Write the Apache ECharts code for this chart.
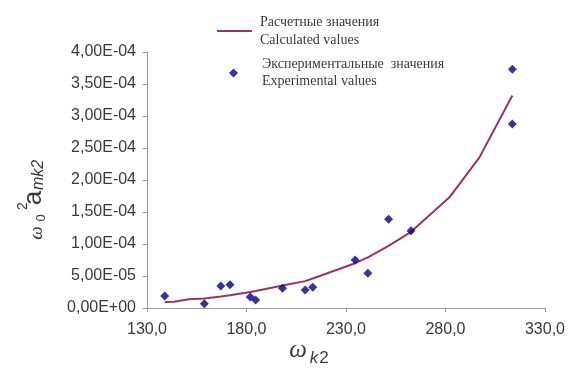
<!DOCTYPE html>
<html>
<head>
<meta charset="utf-8">
<script src="https://cdn.jsdelivr.net/npm/echarts@6/dist/echarts.min.js"></script>
<style>
  html, body { margin: 0; padding: 0; background: #ffffff; }
  #chart { width: 568px; height: 369px; }
</style>
</head>
<body>
<div id="chart"></div>
<script>
// Experimental points (ω_k2, ω0²·a_mk2)
const expX = [138.9, 158.8, 167.1, 171.7, 181.9, 184.6, 198.1, 209.5, 213.3, 234.6, 241.0, 251.4, 262.7, 313.6, 313.6];
const expY = [1.88e-5, 6.8e-6, 3.44e-5, 3.65e-5, 1.72e-5, 1.25e-5, 3.07e-5, 2.81e-5, 3.23e-5, 7.5e-5, 5.42e-5, 1.385e-4, 1.208e-4, 3.73e-4, 2.875e-4];

// Calculated curve
const calcX = [138.9, 143.5, 151.0, 158.8, 167.1, 171.7, 181.9, 184.6, 198.1, 209.5, 213.3, 234.6, 241.0, 251.4, 262.7, 282.0, 297.0, 313.6];
const calcY = [9.4e-6, 9.6e-6, 1.35e-5, 1.5e-5, 1.8e-5, 2.0e-5, 2.5e-5, 2.65e-5, 3.5e-5, 4.2e-5, 4.6e-5, 7.0e-5, 7.9e-5, 9.7e-5, 1.19e-4, 1.73e-4, 2.35e-4, 3.32e-4];

// Axis ranges and tick steps
const xTicks = { min: 130, max: 330, step: 50 };
const yTicks = { min: 0, max: 4e-4, step: 5e-5 };

// Legend labels
const calcName = 'Расчетные значения\nCalculated values';
const expName = 'Экспериментальные  значения\nExperimental values';

const pairs = (xs, ys) => xs.map((x, i) => [x, ys[i]]);

function sciComma(v) {
  if (Math.abs(v) < 1e-12) return '0,00E+00';
  const e = Math.floor(Math.log10(Math.abs(v)) + 1e-9);
  const m = v / Math.pow(10, e);
  return m.toFixed(2).replace('.', ',') + 'E' + (e < 0 ? '-' : '+') + String(Math.abs(e)).padStart(2, '0');
}

const axisGray = '#9a9a9a';
const textGray = '#3a3a3a';
const sans = '"Liberation Sans", Arial, sans-serif';
const serif = '"Liberation Serif", "Times New Roman", serif';

const chart = echarts.init(document.getElementById('chart'), null, { renderer: 'canvas' });

chart.setOption({
  animation: false,
  backgroundColor: '#ffffff',
  grid: { left: 147, top: 52, width: 399, height: 256, containLabel: false },
  legend: [
    {
      data: [{ name: calcName, icon: 'rect' }],
      left: 217, top: 13, padding: 0,
      itemWidth: 35, itemHeight: 2,
      textStyle: { fontFamily: serif, fontSize: 14, lineHeight: 18, color: textGray, padding: [0, 0, 0, 3] },
      selectedMode: false
    },
    {
      data: [{ name: expName }],
      left: 229, top: 56, padding: 0,
      itemWidth: 9, itemHeight: 9,
      textStyle: { fontFamily: serif, fontSize: 14, lineHeight: 17, color: textGray, padding: [0, 0, 0, 19] },
      selectedMode: false
    }
  ],
  xAxis: {
    type: 'value',
    min: xTicks.min, max: xTicks.max, interval: xTicks.step,
    axisLine: { show: true, lineStyle: { color: axisGray, width: 1 } },
    axisTick: { show: true, length: 4, lineStyle: { color: axisGray } },
    splitLine: { show: false },
    axisLabel: {
      margin: 14,
      fontFamily: sans, fontSize: 16, color: textGray,
      formatter: v => v.toFixed(1).replace('.', ',')
    }
  },
  yAxis: {
    type: 'value',
    min: yTicks.min, max: yTicks.max, interval: yTicks.step,
    axisLine: { show: true, lineStyle: { color: axisGray, width: 1 } },
    axisTick: { show: true, length: 4, lineStyle: { color: axisGray } },
    splitLine: { show: false },
    axisLabel: {
      margin: 11,
      fontFamily: sans, fontSize: 16, color: textGray,
      formatter: v => sciComma(v)
    }
  },
  series: [
    {
      name: calcName,
      type: 'line',
      data: pairs(calcX, calcY),
      symbol: 'none',
      smooth: false,
      lineStyle: { color: '#993366', width: 2 },
      itemStyle: { color: '#993366' },
      z: 2
    },
    {
      name: expName,
      type: 'scatter',
      data: pairs(expX, expY),
      symbol: 'diamond',
      symbolSize: 9,
      itemStyle: { color: '#00008b' },
      z: 3
    }
  ],
  graphic: [
    // y-axis title: ω0² a_mk2, read bottom-to-top
    {
      type: 'group',
      x: 37, y: 233,
      rotation: Math.PI / 2,
      children: [
        { type: 'text', x: 0, y: 0, style: { text: 'ω', font: 'italic 19px ' + serif, fill: textGray, align: 'center', verticalAlign: 'middle' } },
        { type: 'text', x: 15, y: 4, style: { text: '0', font: '13px ' + sans, fill: textGray, align: 'center', verticalAlign: 'middle' } },
        { type: 'text', x: 27, y: -14, style: { text: '2', font: '14px ' + sans, fill: textGray, align: 'center', verticalAlign: 'middle' } },
        { type: 'text', x: 35, y: -3, style: { text: 'a', font: '26px ' + sans, fill: textGray, align: 'center', verticalAlign: 'middle' } },
        { type: 'text', x: 43, y: 2, style: { text: 'mk2', font: 'italic 16px ' + sans, fill: textGray, align: 'left', verticalAlign: 'middle' } }
      ]
    },
    // x-axis title: ω_k2
    { type: 'text', x: 298, y: 350, style: { text: 'ω', font: 'italic 25px ' + serif, fill: textGray, align: 'center', verticalAlign: 'middle' } },
    { type: 'text', x: 314, y: 358, style: { text: 'k', font: 'italic 17px ' + sans, fill: textGray, align: 'center', verticalAlign: 'middle' } },
    { type: 'text', x: 324, y: 358, style: { text: '2', font: '17px ' + sans, fill: textGray, align: 'center', verticalAlign: 'middle' } }
  ]
});
</script>
</body>
</html>
